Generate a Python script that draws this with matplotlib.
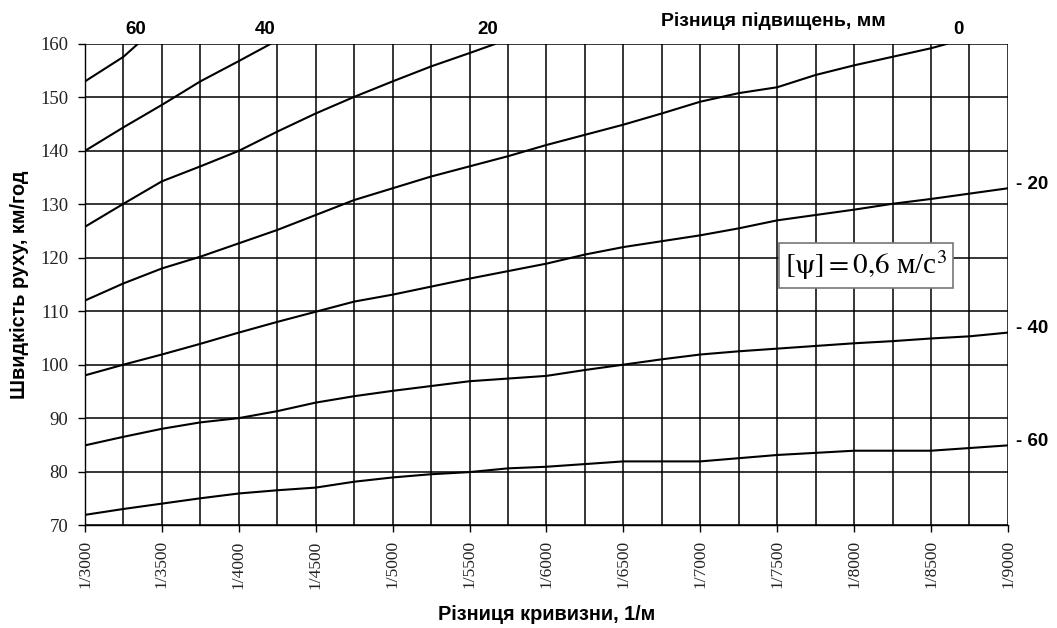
import matplotlib
matplotlib.use("Agg")
import matplotlib.pyplot as plt
from matplotlib.ticker import MultipleLocator, FuncFormatter
import matplotlib.transforms as mtransforms

# радіус кривої (знаменник 1/R), м
radius = [3000, 3250, 3500, 3750, 4000, 4250, 4500, 4750, 5000, 5250, 5500, 5750,
          6000, 6250, 6500, 6750, 7000, 7250, 7500, 7750, 8000, 8250, 8500, 8750, 9000]

# криві, що виходять за верх графіка (60, 40, 20, 0 мм)
r_60 = [3000, 3250, 3343]
v_60 = [153, 157.6, 160]
r_40 = [3000, 3250, 3500, 3750, 4000, 4206]
v_40 = [140, 144.4, 148.6, 153, 156.8, 160]
r_20 = [3000, 3250, 3500, 3750, 4000, 4250, 4500, 4750, 5000, 5250, 5500, 5666]
v_20 = [125.8, 130.1, 134.3, 137.1, 140, 143.6, 147, 150.1, 153, 155.8, 158.3, 160]
r_0 = radius[:23] + [8601]
v_0 = [112, 115.2, 118, 120.2, 122.7, 125.2, 128, 130.8, 133, 135.2, 137.1, 139,
       141.1, 143, 144.9, 147, 149.2, 150.8, 151.9, 154.2, 156, 157.6, 159.2, 160]

# криві на всю ширину (-20, -40, -60 мм)
v_m20 = [98, 100, 101.9, 103.9, 106, 108, 109.9, 111.8, 113.1, 114.6, 116.1, 117.5,
         118.9, 120.6, 122, 123.1, 124.2, 125.5, 127, 128, 129, 130.1, 131, 132, 133]
v_m40 = [84.9, 86.5, 88, 89.2, 90, 91.3, 92.9, 94.1, 95.1, 96, 96.9, 97.4,
         97.9, 99, 100, 101, 101.9, 102.5, 103, 103.5, 104, 104.4, 104.9, 105.3, 106]
v_m60 = [71.9, 73, 74, 75, 75.9, 76.5, 77, 78.1, 78.9, 79.5, 79.9, 80.6,
         80.9, 81.4, 81.9, 81.9, 81.9, 82.5, 83.1, 83.5, 83.9, 83.9, 83.9, 84.4, 84.9]

top_labels = ["60", "40", "20", "0"]
top_label_x = [3330, 4170, 5620, 8680]
right_labels = ["- 20", "- 40", "- 60"]

sans = "Liberation Sans"
serif = "Liberation Serif"
plt.rcParams["mathtext.fontset"] = "stix"

fig = plt.figure(figsize=(10.57, 6.28), dpi=100)
ax = fig.add_axes([0.0804, 0.164, 0.8732, 0.766])

lw = 1.5
for r, v in [(r_60, v_60), (r_40, v_40), (r_20, v_20), (r_0, v_0)]:
    ax.plot(r, v, color="black", lw=lw, zorder=3)
for v in [v_m20, v_m40, v_m60]:
    ax.plot(radius, v, color="black", lw=lw, zorder=3)

ax.set_xlim(3000, 9000)
ax.set_ylim(70, 160)
ax.xaxis.set_major_locator(MultipleLocator(500))
ax.xaxis.set_minor_locator(MultipleLocator(250))
ax.yaxis.set_major_locator(MultipleLocator(10))
ax.xaxis.set_major_formatter(FuncFormatter(lambda x, p: "1/%d" % x))
ax.grid(which="both", color="black", lw=1.1)
ax.set_axisbelow(True)
ax.tick_params(axis="x", which="minor", length=0)
ax.tick_params(axis="x", which="major", length=5, width=1, rotation=90, pad=6)
ax.tick_params(axis="y", length=5, width=1, pad=7)
for lab in ax.get_xticklabels():
    lab.set_fontfamily(serif)
    lab.set_fontsize(12.5)
    lab.set_color("#222222")
for lab in ax.get_yticklabels():
    lab.set_fontfamily(serif)
    lab.set_fontsize(13.5)
    lab.set_color("#222222")
for s in ax.spines.values():
    s.set_linewidth(1.0)
ax.spines["top"].set_visible(False)
ax.spines["right"].set_visible(False)

ax.set_xlabel("Різниця кривизни, 1/м", fontfamily=sans, fontweight="bold",
              fontsize=14.3, labelpad=12)
ax.set_ylabel("Швидкість руху, км/год", fontfamily=sans, fontweight="bold",
              fontsize=14.3, labelpad=8)

trans = mtransforms.blended_transform_factory(ax.transData, ax.transAxes)
for t, x in zip(top_labels, top_label_x):
    ax.text(x, 1.013, t, transform=trans, ha="center", va="bottom",
            fontfamily=sans, fontweight="bold", fontsize=13.5)
ax.text(0.746, 1.03, "Різниця підвищень, мм", transform=ax.transAxes,
        ha="center", va="bottom", fontfamily=sans, fontweight="bold", fontsize=14)

for t, v in zip(right_labels, [v_m20, v_m40, v_m60]):
    ax.annotate(t, xy=(radius[-1], v[-1]), xytext=(6, 3), textcoords="offset points",
                ha="left", va="center", fontfamily=sans, fontweight="bold",
                fontsize=13.5, annotation_clip=False)

ax.text(0.846, 0.54, r"$\left[\mathrm{\psi}\right] = 0{,}6\ $м/с$^{3}$",
        transform=ax.transAxes, ha="center", va="center", fontfamily=serif,
        fontsize=21, zorder=5,
        bbox=dict(boxstyle="square,pad=0.2", fc="white", ec="#777777", lw=1.2))

fig.savefig("out.png", dpi=100)
